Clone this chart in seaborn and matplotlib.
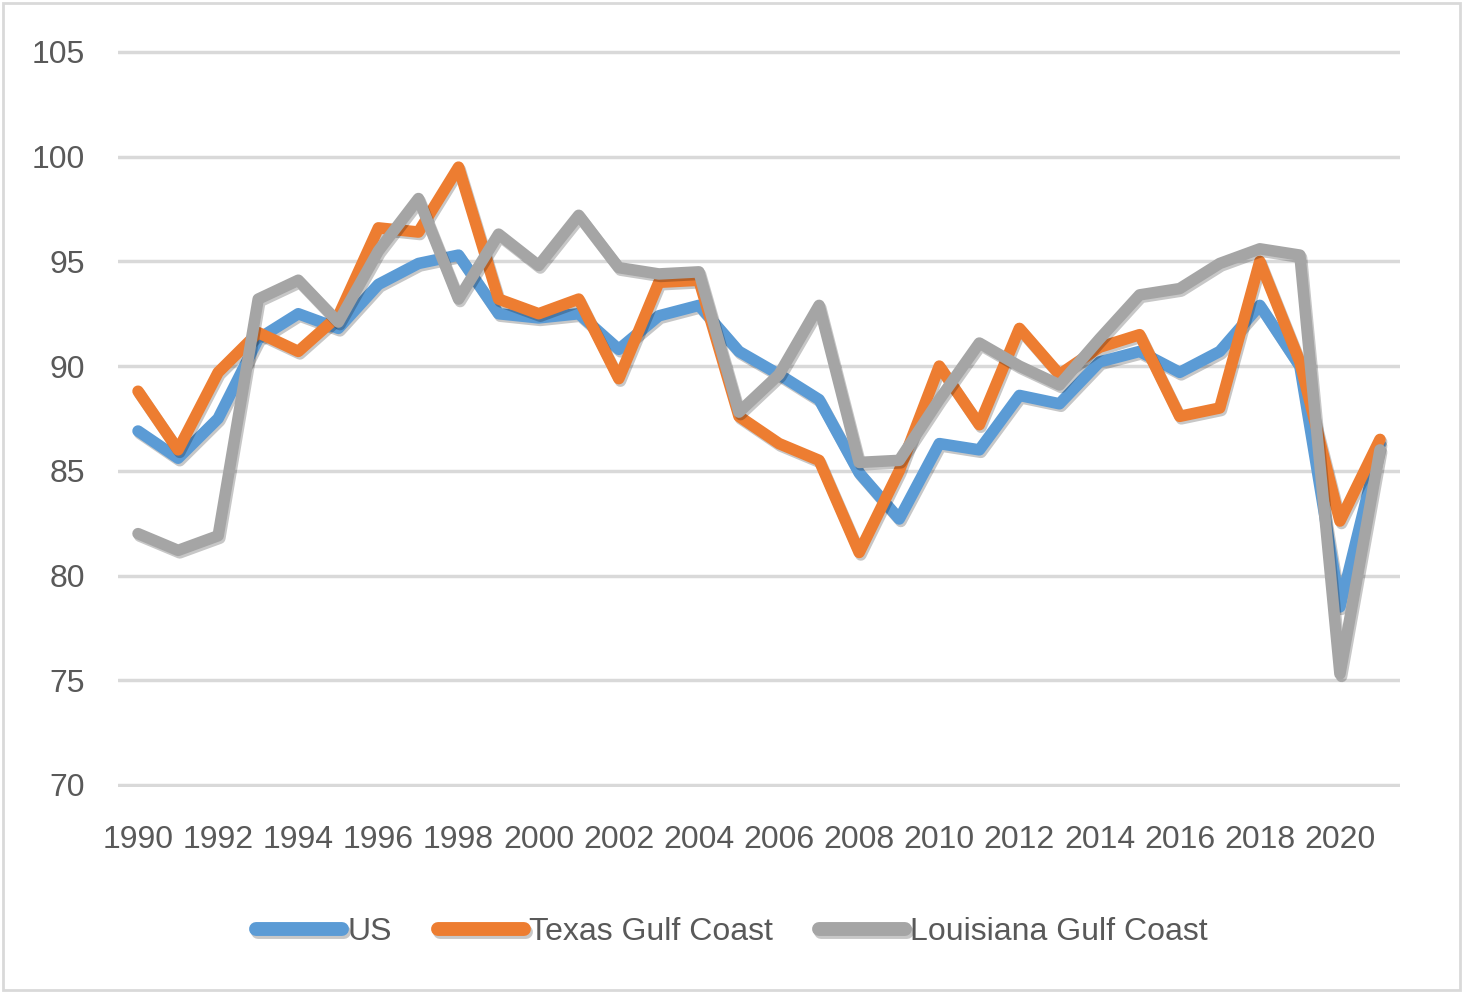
import seaborn as sns
import matplotlib.pyplot as plt
import matplotlib.patheffects as pe
from matplotlib.patches import Rectangle
import pandas as pd
import numpy as np

# -------------------------------
# Data
# -------------------------------
years = list(range(1990, 2022))
us = [86.9, 85.6, 87.5, 91.3, 92.5, 91.8, 93.9, 94.9, 95.3, 92.5,
      92.3, 92.5, 90.8, 92.4, 92.9, 90.7, 89.6, 88.4, 84.9, 82.7,
      86.3, 86.0, 88.6, 88.2, 90.2, 90.7, 89.7, 90.7, 92.9, 90.0,
      78.5, 86.3]
texas = [88.8, 86.0, 89.7, 91.6, 90.7, 92.4, 96.6, 96.4, 99.5, 93.2,
         92.5, 93.2, 89.4, 94.0, 94.1, 87.6, 86.3, 85.5, 81.1, 85.0,
         90.0, 87.2, 91.8, 89.6, 90.9, 91.5, 87.6, 88.0, 95.0, 90.2,
         82.6, 86.5]
louisiana = [82.0, 81.2, 81.9, 93.2, 94.1, 92.1, 95.5, 98.0, 93.2, 96.3,
             94.8, 97.2, 94.7, 94.4, 94.5, 87.8, 89.6, 92.9, 85.4, 85.5,
             88.4, 91.1, 90.0, 89.1, 91.3, 93.4, 93.7, 94.9, 95.6, 95.3,
             75.3, 86.0]
series_names = ["US", "Texas Gulf Coast", "Louisiana Gulf Coast"]
colors = ["#5B9BD5", "#ED7D31", "#A5A5A5"]
xtick_years = list(range(1990, 2021, 2))
ytick_values = [70, 75, 80, 85, 90, 95, 100, 105]

df = pd.DataFrame({
    "Year": years * 3,
    "Value": us + texas + louisiana,
    "Series": np.repeat(series_names, len(years)),
})

# -------------------------------
# Plot
# -------------------------------
sns.set_style("white")
plt.rcParams["font.family"] = ["Liberation Sans", "DejaVu Sans"]
text_color = "#595959"
grid_color = "#D9D9D9"
font_size = 23

fig = plt.figure(figsize=(14.64, 9.93), dpi=100)
ax = fig.add_axes([0.0806, 0.2074, 0.8757, 0.7424])

sns.lineplot(data=df, x="Year", y="Value", hue="Series", palette=colors,
             linewidth=8.3, sort=False, ax=ax)

shadow = [pe.SimpleLineShadow(offset=(1.2, -1.8), shadow_color="black", alpha=0.22),
          pe.Normal()]
for line in ax.lines:
    line.set_solid_joinstyle("round")
    line.set_solid_capstyle("round")
    line.set_path_effects(shadow)

ax.set_xlim(1989.5, 2021.5)
ax.set_ylim(69.9, 105.1)
ax.set_xticks(xtick_years)
ax.set_yticks(ytick_values)
ax.set_xlabel("")
ax.set_ylabel("")
ax.yaxis.grid(True, color=grid_color, linewidth=2.5)
ax.set_axisbelow(True)
for s in ax.spines.values():
    s.set_visible(False)
ax.tick_params(axis="both", length=0, labelsize=font_size, labelcolor=text_color)
ax.tick_params(axis="y", pad=24)
ax.tick_params(axis="x", pad=27)

# legend at the bottom
handles, labels = ax.get_legend_handles_labels()
for h in handles:
    h.set_linewidth(10)
    h.set_solid_capstyle("round")
    h.set_path_effects(shadow)
ax.legend(handles, labels, loc="center", bbox_to_anchor=(0.5, 0.061),
          bbox_transform=fig.transFigure, ncol=3, frameon=False, fontsize=font_size,
          handlelength=2.7, handletextpad=0.15, columnspacing=1.45,
          labelcolor=text_color)

# outer chart border
fig.add_artist(Rectangle((0.002, 0.003), 0.995, 0.994, transform=fig.transFigure,
                         fill=False, edgecolor=grid_color, linewidth=2))

fig.savefig("out.png", dpi=100)
plt.close(fig)
